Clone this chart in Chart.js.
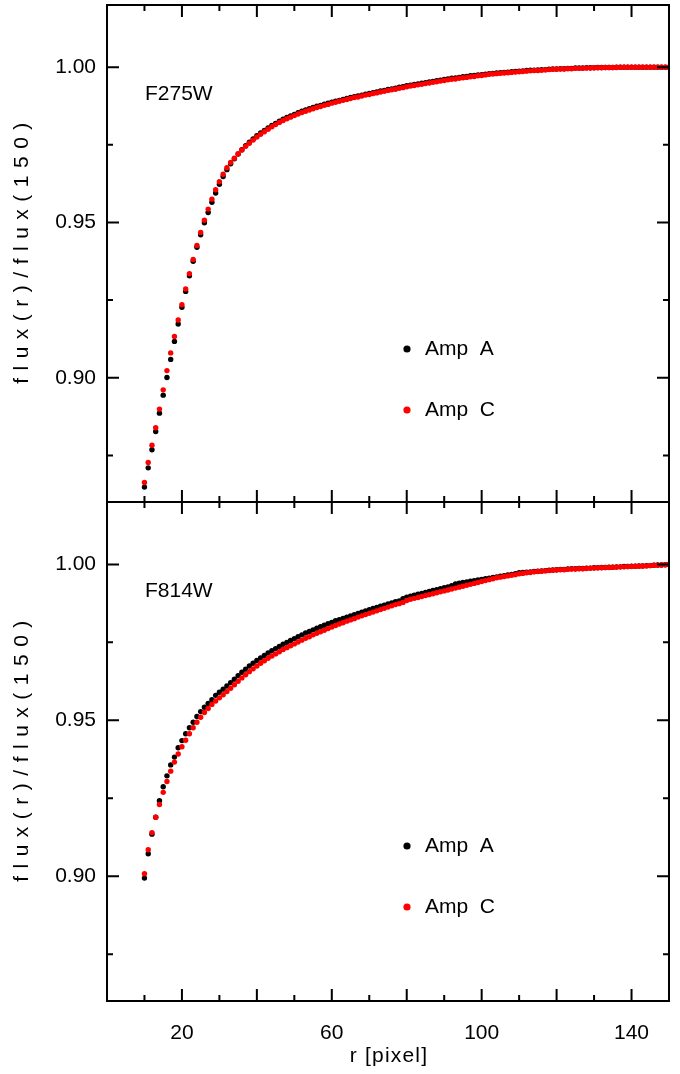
<!DOCTYPE html>
<html>
<head>
<meta charset="utf-8">
<script src="https://cdn.jsdelivr.net/npm/chart.js@4/dist/chart.umd.min.js"></script>
<style>
  body { margin: 0; background: #fff; }
  #wrap { position: relative; width: 680px; height: 1074px; }
  canvas { position: absolute; left: 0; }
  #topChart { top: 0; }
  #bottomChart { top: 500px; }
</style>
</head>
<body>
<div id="wrap">
  <canvas id="topChart" width="680" height="510"></canvas>
  <canvas id="bottomChart" width="680" height="574"></canvas>
</div>
<script>
// aperture radius r [pixel]
var rValues = [
  10, 11, 12, 13, 14, 15, 16, 17, 18, 19,
  20, 21, 22, 23, 24, 25, 26, 27, 28, 29,
  30, 31, 32, 33, 34, 35, 36, 37, 38, 39,
  40, 41, 42, 43, 44, 45, 46, 47, 48, 49,
  50, 51, 52, 53, 54, 55, 56, 57, 58, 59,
  60, 61, 62, 63, 64, 65, 66, 67, 68, 69,
  70, 71, 72, 73, 74, 75, 76, 77, 78, 79,
  80, 81, 82, 83, 84, 85, 86, 87, 88, 89,
  90, 91, 92, 93, 94, 95, 96, 97, 98, 99,
  100, 101, 102, 103, 104, 105, 106, 107, 108, 109,
  110, 111, 112, 113, 114, 115, 116, 117, 118, 119,
  120, 121, 122, 123, 124, 125, 126, 127, 128, 129,
  130, 131, 132, 133, 134, 135, 136, 137, 138, 139,
  140, 141, 142, 143, 144, 145, 146, 147, 148, 149,
  150
];

// F275W, flux(r)/flux(150)
var f275AmpA = [
  0.8648, 0.8710, 0.8768, 0.8827, 0.8886, 0.8944, 0.9001, 0.9059, 0.9117, 0.9173,
  0.9227, 0.9278, 0.9328, 0.9375, 0.9420, 0.9460, 0.9499, 0.9532, 0.9565, 0.9595,
  0.9623, 0.9648, 0.9670, 0.9689, 0.9705, 0.9720, 0.9734, 0.9747, 0.9758, 0.9769,
  0.9779, 0.9788, 0.9796, 0.9804, 0.9812, 0.9819, 0.9826, 0.9832, 0.9838, 0.9843,
  0.9848, 0.9853, 0.9858, 0.9862, 0.9866, 0.9870, 0.9874, 0.9877, 0.9881, 0.9884,
  0.9887, 0.9890, 0.9893, 0.9896, 0.9899, 0.9902, 0.9905, 0.9907, 0.9910, 0.9913,
  0.9915, 0.9918, 0.9920, 0.9923, 0.9925, 0.9928, 0.9930, 0.9932, 0.9935, 0.9937,
  0.9940, 0.9942, 0.9944, 0.9946, 0.9948, 0.9950, 0.9952, 0.9954, 0.9956, 0.9958,
  0.9960, 0.9962, 0.9964, 0.9965, 0.9967, 0.9969, 0.9970, 0.9972, 0.9973, 0.9975,
  0.9976, 0.9977, 0.9979, 0.9980, 0.9981, 0.9982, 0.9983, 0.9984, 0.9985, 0.9986,
  0.9987, 0.9988, 0.9989, 0.9990, 0.9990, 0.9991, 0.9992, 0.9992, 0.9993, 0.9994,
  0.9994, 0.9995, 0.9995, 0.9996, 0.9996, 0.9997, 0.9997, 0.9997, 0.9998, 0.9998,
  0.9998, 0.9999, 0.9999, 0.9999, 0.9999, 0.9999, 1.0000, 1.0000, 1.0000, 1.0000,
  1.0000, 1.0000, 1.0000, 1.0000, 1.0000, 1.0000, 1.0000, 1.0000, 1.0000, 1.0000,
  1.0000
];
var f275AmpC = [
  0.8663, 0.8727, 0.8783, 0.8839, 0.8899, 0.8961, 0.9023, 0.9080, 0.9133, 0.9186,
  0.9235, 0.9286, 0.9335, 0.9381, 0.9426, 0.9468, 0.9507, 0.9543, 0.9575, 0.9605,
  0.9631, 0.9655, 0.9676, 0.9693, 0.9707, 0.9721, 0.9733, 0.9745, 0.9755, 0.9765,
  0.9775, 0.9784, 0.9792, 0.9800, 0.9808, 0.9815, 0.9822, 0.9828, 0.9834, 0.9839,
  0.9844, 0.9849, 0.9854, 0.9858, 0.9862, 0.9866, 0.9870, 0.9873, 0.9877, 0.9880,
  0.9884, 0.9887, 0.9890, 0.9893, 0.9896, 0.9899, 0.9902, 0.9904, 0.9907, 0.9910,
  0.9912, 0.9915, 0.9917, 0.9920, 0.9922, 0.9925, 0.9927, 0.9929, 0.9932, 0.9934,
  0.9937, 0.9939, 0.9941, 0.9943, 0.9945, 0.9947, 0.9949, 0.9951, 0.9953, 0.9955,
  0.9957, 0.9959, 0.9961, 0.9962, 0.9964, 0.9966, 0.9967, 0.9969, 0.9970, 0.9972,
  0.9973, 0.9975, 0.9977, 0.9978, 0.9979, 0.9980, 0.9981, 0.9982, 0.9983, 0.9984,
  0.9985, 0.9986, 0.9987, 0.9988, 0.9989, 0.9989, 0.9990, 0.9991, 0.9992, 0.9993,
  0.9993, 0.9994, 0.9994, 0.9995, 0.9995, 0.9996, 0.9996, 0.9996, 0.9997, 0.9997,
  0.9998, 0.9998, 0.9998, 0.9999, 0.9999, 0.9999, 0.9999, 1.0000, 1.0000, 1.0000,
  1.0000, 1.0000, 1.0000, 1.0000, 1.0000, 1.0000, 1.0000, 1.0000, 1.0000, 1.0000,
  1.0000
];

// F814W, flux(r)/flux(150)
var f814AmpA = [
  0.8994, 0.9072, 0.9135, 0.9189, 0.9242, 0.9287, 0.9322, 0.9357, 0.9382, 0.9412,
  0.9435, 0.9457, 0.9476, 0.9494, 0.9512, 0.9528, 0.9542, 0.9554, 0.9566, 0.9580,
  0.9590, 0.9600, 0.9610, 0.9621, 0.9632, 0.9643, 0.9654, 0.9664, 0.9674, 0.9683,
  0.9692, 0.9700, 0.9708, 0.9716, 0.9723, 0.9730, 0.9737, 0.9744, 0.9750, 0.9756,
  0.9762, 0.9768, 0.9774, 0.9780, 0.9785, 0.9790, 0.9795, 0.9800, 0.9805, 0.9810,
  0.9814, 0.9819, 0.9823, 0.9827, 0.9831, 0.9835, 0.9839, 0.9843, 0.9847, 0.9851,
  0.9855, 0.9859, 0.9862, 0.9866, 0.9869, 0.9873, 0.9876, 0.9880, 0.9883, 0.9890,
  0.9895, 0.9898, 0.9901, 0.9904, 0.9907, 0.9910, 0.9913, 0.9916, 0.9919, 0.9922,
  0.9925, 0.9928, 0.9932, 0.9937, 0.9940, 0.9942, 0.9944, 0.9946, 0.9948, 0.9950,
  0.9952, 0.9954, 0.9956, 0.9958, 0.9960, 0.9962, 0.9964, 0.9966, 0.9968, 0.9970,
  0.9973, 0.9974, 0.9975, 0.9976, 0.9977, 0.9978, 0.9979, 0.9980, 0.9981, 0.9982,
  0.9983, 0.9984, 0.9984, 0.9985, 0.9986, 0.9986, 0.9987, 0.9987, 0.9988, 0.9988,
  0.9989, 0.9989, 0.9990, 0.9990, 0.9991, 0.9991, 0.9992, 0.9992, 0.9993, 0.9993,
  0.9994, 0.9994, 0.9995, 0.9995, 0.9996, 0.9996, 0.9997, 0.9998, 0.9998, 0.9999,
  1.0000
];
var f814AmpC = [
  0.9008, 0.9085, 0.9140, 0.9189, 0.9230, 0.9269, 0.9304, 0.9337, 0.9366, 0.9392,
  0.9415, 0.9436, 0.9457, 0.9476, 0.9494, 0.9510, 0.9525, 0.9538, 0.9551, 0.9562,
  0.9572, 0.9582, 0.9592, 0.9603, 0.9614, 0.9625, 0.9636, 0.9646, 0.9656, 0.9665,
  0.9674, 0.9683, 0.9691, 0.9699, 0.9706, 0.9713, 0.9720, 0.9727, 0.9733, 0.9739,
  0.9745, 0.9751, 0.9757, 0.9763, 0.9768, 0.9774, 0.9779, 0.9784, 0.9789, 0.9794,
  0.9799, 0.9804, 0.9809, 0.9813, 0.9818, 0.9822, 0.9826, 0.9831, 0.9835, 0.9839,
  0.9843, 0.9847, 0.9851, 0.9855, 0.9859, 0.9863, 0.9867, 0.9871, 0.9874, 0.9878,
  0.9884, 0.9888, 0.9891, 0.9894, 0.9897, 0.9900, 0.9903, 0.9906, 0.9909, 0.9912,
  0.9915, 0.9918, 0.9921, 0.9924, 0.9927, 0.9930, 0.9933, 0.9936, 0.9939, 0.9942,
  0.9945, 0.9948, 0.9951, 0.9954, 0.9957, 0.9959, 0.9961, 0.9963, 0.9965, 0.9967,
  0.9970, 0.9971, 0.9973, 0.9974, 0.9976, 0.9977, 0.9978, 0.9979, 0.9980, 0.9981,
  0.9982, 0.9983, 0.9983, 0.9984, 0.9985, 0.9985, 0.9986, 0.9986, 0.9987, 0.9988,
  0.9988, 0.9989, 0.9989, 0.9990, 0.9990, 0.9991, 0.9991, 0.9992, 0.9992, 0.9993,
  0.9993, 0.9994, 0.9994, 0.9995, 0.9995, 0.9996, 0.9997, 0.9997, 0.9998, 0.9999,
  1.0000
];

// ticks
var xMajorTicks = [20, 40, 60, 80, 100, 120, 140];
var xMinorTicks = [10, 30, 50, 70, 90, 110, 130];
var xTickLabels = [20, 60, 100, 140];
var yMajorTicks = [0.90, 0.95, 1.00];
var yMinorTicks = [0.875, 0.925, 0.975];

var FONT = "'Liberation Sans', Arial, sans-serif";

function toPoints(values) {
  return values.map(function (v, i) { return { x: rValues[i], y: v }; });
}

// frame with inward ticks on all sides, titles, panel name and the little legend
var framePlugin = {
  id: 'frame',
  afterDraw: function (chart, args, opts) {
    var ctx = chart.ctx;
    var a = chart.chartArea;
    var xs = chart.scales.x;
    var ys = chart.scales.y;
    ctx.save();
    ctx.strokeStyle = '#000';
    ctx.lineWidth = 2;
    ctx.strokeRect(a.left, a.top, a.right - a.left, a.bottom - a.top);

    ctx.beginPath();
    function xTick(v, len) {
      var px = xs.getPixelForValue(v);
      ctx.moveTo(px, a.bottom); ctx.lineTo(px, a.bottom - len);
      ctx.moveTo(px, a.top); ctx.lineTo(px, a.top + len);
    }
    function yTick(v, len) {
      var py = ys.getPixelForValue(v);
      ctx.moveTo(a.left, py); ctx.lineTo(a.left + len, py);
      ctx.moveTo(a.right, py); ctx.lineTo(a.right - len, py);
    }
    xMajorTicks.forEach(function (v) { xTick(v, 12); });
    xMinorTicks.forEach(function (v) { xTick(v, 6); });
    yMajorTicks.forEach(function (v) { yTick(v, 12); });
    yMinorTicks.forEach(function (v) { yTick(v, 6); });
    ctx.stroke();

    ctx.fillStyle = '#000';
    ctx.font = '21px ' + FONT;

    // y title, spread out like the vector font of the original
    ctx.save();
    ctx.translate(22, (a.top + a.bottom) / 2);
    ctx.rotate(-Math.PI / 2);
    ctx.textAlign = 'center';
    ctx.textBaseline = 'middle';
    if ('letterSpacing' in ctx) ctx.letterSpacing = '7.5px';
    ctx.fillText('flux(r)/flux(150)', 4, 0);
    ctx.restore();

    // x title only under the lower panel
    if (opts.xTitle) {
      ctx.save();
      ctx.textAlign = 'center';
      ctx.textBaseline = 'middle';
      if ('letterSpacing' in ctx) ctx.letterSpacing = '1.2px';
      ctx.fillText(opts.xTitle, (a.left + a.right) / 2 + 1, a.bottom + 55);
      ctx.restore();
    }

    // filter name
    ctx.textAlign = 'left';
    ctx.textBaseline = 'alphabetic';
    ctx.fillText(opts.label, a.left + 38, a.top + 95);

    // legend
    ctx.textBaseline = 'middle';
    chart.data.datasets.forEach(function (ds, i) {
      var y = a.top + 344 + i * 61;
      ctx.fillStyle = ds.backgroundColor;
      ctx.beginPath();
      ctx.arc(a.left + 300, y, 3.6, 0, Math.PI * 2);
      ctx.fill();
      ctx.fillStyle = '#000';
      ctx.fillText(ds.label, a.left + 318, y);
    });
    ctx.restore();
  }
};

function makePanel(id, ampA, ampC, label, bottom) {
  return new Chart(id, {
    type: 'scatter',
    data: {
      datasets: [
        { label: 'Amp  A', data: toPoints(ampA), backgroundColor: '#000000', order: 1 },
        { label: 'Amp  C', data: toPoints(ampC), backgroundColor: '#ff0000', order: 0 }
      ]
    },
    options: {
      responsive: false,
      animation: false,
      events: [],
      layout: {
        autoPadding: false,
        padding: { top: bottom ? 2 : 5, right: 11, bottom: bottom ? 0 : 8, left: 0 }
      },
      elements: { point: { radius: 2.7, borderWidth: 0, hoverRadius: 2.7 } },
      scales: {
        x: {
          type: 'linear',
          min: 0,
          max: 150,
          display: bottom,
          grid: { display: false, drawTicks: false },
          border: { display: false },
          afterBuildTicks: function (scale) {
            scale.ticks = xTickLabels.map(function (v) { return { value: v }; });
          },
          afterFit: function (scale) {
            if (bottom) scale.height = 73;
            scale.paddingLeft = 0;
            scale.paddingRight = 0;
          },
          ticks: {
            autoSkip: false,
            maxRotation: 0,
            padding: 20,
            color: '#000',
            font: { family: FONT, size: 21 }
          }
        },
        y: {
          type: 'linear',
          min: 0.86,
          max: 1.02,
          grid: { display: false, drawTicks: false },
          border: { display: false },
          afterBuildTicks: function (scale) {
            scale.ticks = yMajorTicks.map(function (v) { return { value: v }; });
          },
          afterFit: function (scale) {
            scale.width = 107;
            scale.paddingTop = 0;
            scale.paddingBottom = 0;
          },
          ticks: {
            padding: 11,
            color: '#000',
            font: { family: FONT, size: 21 },
            callback: function (v) { return v.toFixed(2); }
          }
        }
      },
      plugins: {
        legend: { display: false },
        tooltip: { enabled: false },
        frame: { label: label, xTitle: bottom ? 'r [pixel]' : '' }
      }
    },
    plugins: [framePlugin]
  });
}

makePanel('topChart', f275AmpA, f275AmpC, 'F275W', false);
makePanel('bottomChart', f814AmpA, f814AmpC, 'F814W', true);
</script>
</body>
</html>
